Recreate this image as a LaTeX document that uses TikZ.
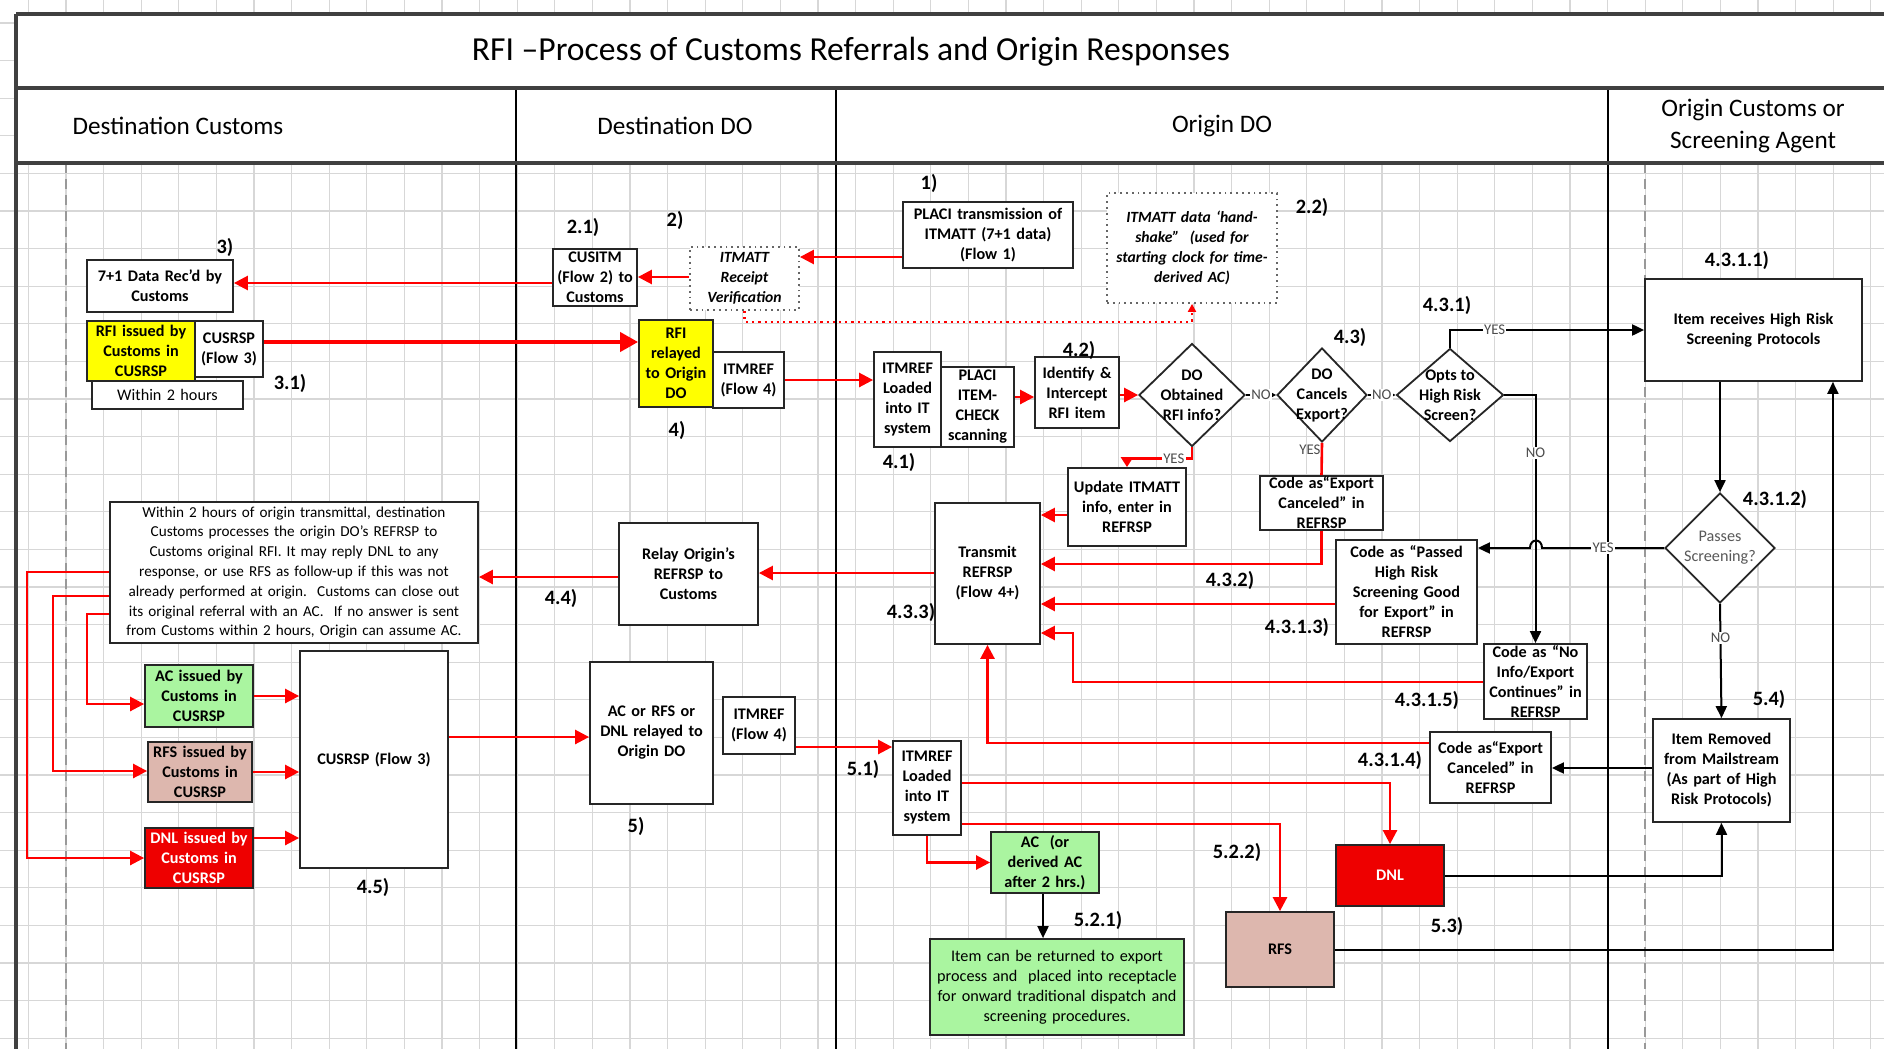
\documentclass[tikz,border=0pt]{standalone}
\usepackage{fontspec}
\setmainfont{Carlito}
\usetikzlibrary{arrows.meta,shapes.geometric}
\definecolor{ylw}{RGB}{255,255,0}
\definecolor{grn}{RGB}{170,245,160}
\definecolor{pnk}{RGB}{221,183,174}
\definecolor{dnlred}{RGB}{238,0,0}
\definecolor{lnred}{RGB}{255,0,0}
\definecolor{gridc}{RGB}{215,215,215}
\newcommand\mybf{\bfseries\fontsize{8.1}{10}\selectfont}
\newcommand\myrg{\fontsize{8.1}{10}\selectfont}
\newcommand\mylong{\fontsize{7.6}{9.9}\selectfont}
\newcommand\mybi{\bfseries\itshape\fontsize{7.8}{10}\selectfont}
\newcommand\mystep{\bfseries\fontsize{10.2}{12}\selectfont}
\newcommand\myyn{\fontsize{7.4}{8}\selectfont}
\newcommand\myhead{\fontsize{12.6}{16}\selectfont}
\newcommand\mytitle{\fontsize{16.8}{19}\selectfont}
\tikzset{
 box/.style={draw=black!85,line width=0.9pt,fill=white,inner sep=0pt},
 dotbox/.style={draw=black!60,dotted,line width=0.9pt,fill=white,inner sep=0pt},
 btxt/.style={align=center,inner sep=0pt,font=\mybf},
 dmd/.style={diamond,draw=black!85,line width=0.9pt,fill=white,inner sep=0pt},
 stp/.style={font=\mystep,inner sep=0pt},
 yn/.style={font=\myyn,text=black!70,fill=white,inner sep=0.6pt},
 rarr/.style={draw=lnred,line width=1.3pt,-{Triangle[length=7pt,width=7pt]}},
 rarrs/.style={draw=lnred,line width=1.3pt,-{Triangle[length=5pt,width=6pt]}},
 rarrthick/.style={draw=lnred,line width=2pt,-{Triangle[length=9pt,width=9.5pt]}},
 rline/.style={draw=lnred,line width=1.3pt},
 barr/.style={draw=black,line width=1pt,-{Triangle[length=6pt,width=5.5pt]}},
 bsm/.style={draw=black,line width=0.9pt,-{Triangle[length=3pt,width=3pt]}},
 rdot/.style={draw=lnred,line width=1.1pt,dotted,-{Triangle[length=4pt,width=4pt]}},
 gridln/.style={draw=gridc,line width=0.6pt},
 frm/.style={draw=black!75,line width=1.6pt},
 lane/.style={draw=black,line width=1.1pt},
 dsh/.style={draw=black!40,line width=0.6pt,dash pattern=on 5pt off 3pt},
}
\newcommand\bx[8][]{%
 \pgfmathsetmacro\bxw{(#5-#3)*0.5}%
 \pgfmathsetmacro\bxh{(#6-#4)*0.5}%
 \pgfmathsetmacro\bxt{(#5-#3)*0.5-2}%
 \pgfmathsetmacro\bxx{(#3+#5)/2}%
 \pgfmathsetmacro\bxy{(#4+#6)/2}%
 \node[box,minimum width=\bxw pt,minimum height=\bxh pt,#1,label={[btxt,text width=\bxt pt,#7]center:{#8}}] (#2) at (\bxx,\bxy) {};}
\begin{document}
\begin{tikzpicture}[x=0.5pt,y=-0.5pt]
\useasboundingbox (0,0) rectangle (1884,1049);
\fill[white] (0,0) rectangle (1884,1049);
% grid
\foreach \i in {0,...,49} \draw[gridln] ({28.3+37.6*\i},0) -- ({28.3+37.6*\i},1049);
\foreach \j in {-4,...,23} \draw[gridln] (0,{173.3+37.6*\j}) -- (1884,{173.3+37.6*\j});
\fill[white] (16,14) rectangle (1884,163);
% frame
\draw[dsh] (66,163) -- (66,1049);
\draw[dsh] (1645,163) -- (1645,1049);
\draw[lane] (516,88) -- (516,1049);
\draw[lane] (836,88) -- (836,1049);
\draw[lane] (1608,88) -- (1608,1049);
\draw[frm] (16,14) -- (1884,14);
\draw[frm] (16,88) -- (1884,88);
\draw[frm] (16,163) -- (1884,163);
\draw[frm] (16,14) -- (16,1049);
% headers
\node[font=\mytitle] (title) at (851,52) {RFI –Process of Customs Referrals and Origin Responses};
\node[font=\myhead] (h1) at (178,126) {Destination Customs};
\node[font=\myhead] (h2) at (675,126) {Destination DO};
\node[font=\myhead] (h3) at (1222,126) {Origin DO};
\node[font=\myhead,align=center] (h4) at (1753,126) {Origin Customs or\\Screening Agent};
% Destination Customs
\bx{data71}{87}{260}{233}{312}{}{7+1 Data Rec’d by\\Customs}
\bx[fill=ylw]{rfic}{87}{321}{195}{381}{}{RFI issued by\\Customs in\\CUSRSP}
\bx{cusrspa}{195}{321}{263}{377}{}{CUSRSP\\(Flow 3)}
\bx{wtwo}{92}{381}{243}{409}{font=\myrg}{Within 2 hours}
\bx{longtxt}{110}{502}{478}{643}{font=\mylong}{Within 2 hours of origin transmittal, destination\\Customs processes the origin DO’s REFRSP to\\Customs original RFI. It may reply DNL to any\\response, or use RFS as follow-up if this was not\\already performed at origin.\ \ Customs can close out\\its original referral with an AC.\ \ If no answer is sent\\from Customs within 2 hours, Origin can assume AC.}
\bx[fill=grn]{acc}{145}{665}{253}{727}{}{AC issued by\\Customs in\\CUSRSP}
\bx[fill=pnk]{rfsc}{148}{742}{252}{802}{}{RFS issued by\\Customs in\\CUSRSP}
\bx[fill=dnlred]{dnlc}{145}{828}{253}{888}{text=white}{DNL issued by\\Customs in\\CUSRSP}
\bx{cusrspb}{300}{651}{448}{868}{}{CUSRSP (Flow 3)}
% Destination DO
\bx{cusitm}{553}{249}{637}{306}{}{CUSITM\\(Flow 2) to\\Customs}
\bx[dotbox]{itmattr}{690}{247}{799}{310}{font=\mybi}{ITMATT\\Receipt\\Verification}
\bx[fill=ylw]{rfirel}{639}{320}{713}{407}{}{RFI\\relayed\\to Origin\\DO}
\bx{itmrefa}{713}{352}{784}{408}{}{ITMREF\\(Flow 4)}
\bx{relay}{619}{523}{758}{625}{}{Relay Origin’s\\REFRSP to\\Customs}
\bx{acrel}{590}{662}{713}{804}{}{AC or RFS or\\DNL relayed to\\Origin DO}
\bx{itmrefb}{723}{697}{795}{754}{}{ITMREF\\(Flow 4)}
% Origin DO
\bx{placi}{903}{202}{1073}{268}{}{PLACI transmission of\\ITMATT (7+1 data)\\(Flow 1)}
\bx[dotbox]{hs}{1107}{193}{1277}{303}{font=\mybi}{ITMATT data ‘hand-\\shake”\ \ (used for\\starting clock for time-\\derived AC)}
\bx{itmlda}{874}{352}{941}{447}{}{ITMREF\\Loaded\\into IT\\system}
\bx{pic}{941}{367}{1014}{447}{}{PLACI\\ITEM-\\CHECK\\scanning}
\bx{ident}{1035}{357}{1119}{428}{}{Identify \&\\Intercept\\RFI item}
\node[dmd,minimum width=53pt,minimum height=51.5pt,label={[btxt]center:{DO\\Obtained\\RFI info?}}] (d1) at (1192,395) {};
\node[dmd,minimum width=45pt,minimum height=47pt,label={[btxt]center:{DO\\Cancels\\Export?}}] (d2) at (1322,395) {};
\node[dmd,minimum width=53.5pt,minimum height=46.5pt,label={[btxt]center:{Opts to\\High Risk\\Screen?}}] (d3) at (1450,395) {};
\bx{upd}{1068}{468}{1186}{546}{}{Update ITMATT\\info, enter in\\REFRSP}
\bx{eca}{1260}{476}{1383}{530}{}{Code as“Export\\Canceled” in\\REFRSP}
\bx{trans}{935}{503}{1040}{644}{}{Transmit\\REFRSP\\(Flow 4+)}
\bx{passed}{1336}{540}{1477}{644}{}{Code as “Passed\\High Risk\\Screening Good\\for Export” in\\REFRSP}
\bx{noinfo}{1484}{644}{1587}{719}{}{Code as “No\\Info/Export\\Continues” in\\REFRSP}
\bx{ecb}{1430}{732}{1551}{803}{}{Code as“Export\\Canceled” in\\REFRSP}
\bx{itmldb}{893}{741}{961}{835}{}{ITMREF\\Loaded\\into IT\\system}
\bx[fill=grn]{acg}{991}{832}{1099}{893}{}{AC\ \ (or\\derived AC\\after 2 hrs.)}
\bx[fill=grn]{ret}{930}{939}{1184}{1035}{font=\myrg}{Item can be returned to export\\process and\ \ placed into receptacle\\for onward traditional dispatch and\\screening procedures.}
\bx[fill=dnlred]{dnl}{1336}{845}{1444}{906}{text=white}{DNL}
\bx[fill=pnk]{rfs}{1226}{912}{1334}{987}{}{RFS}
% Origin Customs
\bx{hrp}{1645}{279}{1862}{381}{}{Item receives High Risk\\Screening Protocols}
\node[dmd,minimum width=55pt,minimum height=55pt,label={[btxt,font=\myrg,text=black!65]center:{Passes\\Screening?}}] (passes) at (1720,548) {};
\bx{removed}{1653}{719}{1790}{822}{}{Item Removed\\from Mailstream\\(As part of High\\Risk Protocols)}
% connectors
\draw[rarr] (placi.west |- 0,257) -- (itmattr.east |- 0,257);
\draw[rarr] (itmattr.west |- 0,277) -- (cusitm.east |- 0,277);
\draw[rarr] (cusitm.west |- 0,283) -- (data71.east |- 0,283);
\draw[rarrthick] (cusrspa.east |- 0,342) -- (rfirel.west |- 0,342);
\draw[rarr] (itmrefa.east |- 0,380) -- (itmlda.west |- 0,380);
\draw[rarr] (pic.east |- 0,397) -- (ident.west |- 0,397);
\draw[rarr] (ident.east |- 0,395) -- (d1.west);
\draw[bsm] (d1.east) -- node[yn]{NO} (d2.west);
\draw[bsm] (d2.east) -- node[yn]{NO} (d3.west);
\draw[barr] (d3.north) |- node[yn,pos=0.615]{YES} (hrp.west |- 0,330);
\draw[barr] (d3.east) -| node[yn,pos=0.616]{NO} (noinfo.north);
\draw[rarrs] (d1.south) -- ++(0,11) -| node[yn,pos=0.14]{YES} (upd.north);
\draw[rarr] (upd.west |- 0,515) -- (trans.east |- 0,515);
\draw[rline] (d2.south) -- node[yn,fill=none,pos=0.2,xshift=-6pt]{YES} (eca.north);
\draw[rarr] (eca.south) |- (trans.east |- 0,564);
\draw[rarr] (passed.west |- 0,604) -- (trans.east |- 0,604);
\draw[rarr] (noinfo.west |- 0,682) -- (1073,682) -- (1073,633) -- (trans.east |- 0,633);
\draw[rarr] (ecb.west |- 0,743) -| (trans.south);
\draw[barr] (passes.north |- hrp.south) -- (passes.north);
\draw[barr] (passes.west) -- node[yn]{YES} (1542,548) .. controls (1542,538) and (1530,538) .. (1530,548) -- (passed.east |- 0,548);
\draw[barr] (passes.south) -- node[yn,pos=0.3]{NO} (removed.north);
\draw[barr] (removed.west |- 0,768) -- (ecb.east |- 0,768);
\draw[rarr] (trans.west |- 0,573) -- (relay.east |- 0,573);
\draw[rarr] (relay.west |- 0,577) -- (longtxt.east |- 0,577);
\draw[rarr] (longtxt.west |- 0,572) -- (27,572) -- (27,858) -- (dnlc.west |- 0,858);
\draw[rarr] (longtxt.west |- 0,596) -- (53,596) -- (53,771) -- (rfsc.west |- 0,771);
\draw[rarr] (longtxt.west |- 0,614) -- (87,614) -- (87,704) -- (acc.west |- 0,704);
\draw[rarr] (acc.east |- 0,696) -- (cusrspb.west |- 0,696);
\draw[rarr] (rfsc.east |- 0,772) -- (cusrspb.west |- 0,772);
\draw[rarr] (dnlc.east |- 0,838) -- (cusrspb.west |- 0,838);
\draw[rarr] (cusrspb.east |- 0,737) -- (acrel.west |- 0,737);
\draw[rarr] (itmrefb.east |- 0,747) -- (itmldb.west |- 0,747);
\draw[rarr] (itmldb.east |- 0,783) -| (dnl.north);
\draw[rarr] (itmldb.east |- 0,824) -| (rfs.north);
\draw[rarr] (itmldb.south) |- (acg.west);
\draw[barr] (acg.south -| 1043,0) -- (ret.north -| 1043,0);
\draw[barr] (dnl.east) -| (removed.south);
\draw[barr] (rfs.east) -| ([xshift=-15pt]hrp.south east);
\draw[rdot] (itmattr.south) -- ++(0,11) -| (hs.south);
% step labels
\foreach \t/\px/\py [count=\i] in {1)/929/183, 2)/675/220, 2.1)/583/227, 2.2)/1312/207, 3)/225/247, 3.1)/290/383, 4)/677/430, 4.1)/899/462, 4.2)/1079/350, 4.3)/1350/337, 4.3.1)/1447/305, 4.3.1.1)/1737/260, 4.3.1.2)/1775/499, 4.3.1.3)/1297/627, 4.3.1.4)/1390/760, 4.3.1.5)/1427/700, 4.3.2)/1230/580, 4.3.3)/911/612, 4.4)/561/598, 4.5)/373/887, 5)/636/826, 5.1)/863/769, 5.2.1)/1098/920, 5.2.2)/1237/852, 5.3)/1447/926, 5.4)/1769/699}
  \node[stp] (step\i) at (\px,\py) {\t};
\end{tikzpicture}
\end{document}
